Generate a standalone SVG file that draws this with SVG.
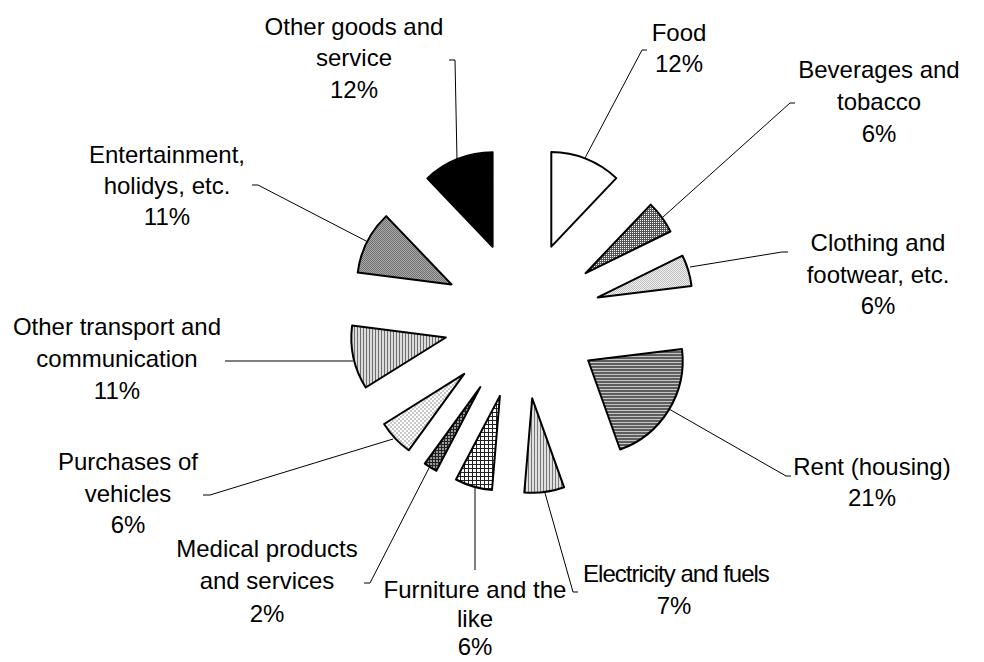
<svg xmlns="http://www.w3.org/2000/svg" width="984" height="662" viewBox="0 0 984 662">
<defs>
<pattern id="pBev" width="2" height="2" patternUnits="userSpaceOnUse"><rect width="2" height="2" fill="#555"/><rect width="1" height="1" fill="#fff"/></pattern>
<pattern id="pEnt" width="2" height="2" patternUnits="userSpaceOnUse"><rect width="2" height="2" fill="#aaa"/><rect width="1" height="1" fill="#707070"/><rect x="1" y="1" width="1" height="1" fill="#707070"/></pattern>
<pattern id="pCloth" width="2" height="2" patternUnits="userSpaceOnUse"><rect width="2" height="2" fill="#f2f2f2"/><rect width="1" height="1" fill="#bdbdbd"/><rect x="1" y="1" width="1" height="1" fill="#bdbdbd"/></pattern>
<pattern id="pPurch" width="4" height="4" patternUnits="userSpaceOnUse"><rect width="4" height="4" fill="#fff"/><rect width="2" height="2" fill="#c8c8c8"/><rect x="2" y="2" width="2" height="2" fill="#c8c8c8"/></pattern>
<pattern id="pRent" width="3" height="3" patternUnits="userSpaceOnUse"><rect width="3" height="3" fill="#5e5e5e"/><rect y="2" width="3" height="1" fill="#c4c4c4"/></pattern>
<pattern id="pOT" width="3" height="3" patternUnits="userSpaceOnUse"><rect width="3" height="3" fill="#dcdcdc"/><rect width="1" height="3" fill="#6e6e6e"/></pattern>
<pattern id="pElec" width="3" height="3" patternUnits="userSpaceOnUse"><rect width="3" height="3" fill="#e0e0e0"/><rect width="1" height="3" fill="#777"/></pattern>
<pattern id="pFurn" width="4" height="4" patternUnits="userSpaceOnUse"><rect width="4" height="4" fill="#fff"/><rect width="4" height="1" fill="#222"/><rect width="1" height="4" fill="#222"/></pattern>
<pattern id="pMed" width="3" height="3" patternUnits="userSpaceOnUse"><rect width="3" height="3" fill="#9a9a9a"/><rect width="3" height="1" fill="#222"/><rect width="1" height="3" fill="#222"/></pattern>
</defs>
<style>
.s{stroke:#000;stroke-width:2;stroke-linejoin:round}
.l{fill:none;stroke:#000;stroke-width:1}
text{font-family:"Liberation Sans",Arial,sans-serif;font-size:24px;fill:#000;text-anchor:middle}
</style>
<g id="connectors">
<polyline class="l" points="449,60 455,60 457,160"/>
<polyline class="l" points="585,158 642,50 647,50"/>
<polyline class="l" points="663,217 790,103 795,103"/>
<polyline class="l" points="690,267 782,252 788,252"/>
<polyline class="l" points="669,409 786,476 791,476"/>
<polyline class="l" points="545,493 573,592 578,592"/>
<polyline class="l" points="475,487 475,570"/>
<polyline class="l" points="429,468 370,583 364,583"/>
<polyline class="l" points="393,439 210,495 203,495"/>
<polyline class="l" points="353,361 225,361"/>
<polyline class="l" points="368,242 258,185 252,185"/>
</g>
<g id="food"><path class="s" fill="#fff" d="M551.3,246.6 L551.3,152.1 A94.5,94.5 0 0 1 616.3,178.1 Z"/><text x="679" y="41">Food</text><text x="679" y="72">12%</text></g>
<g id="beverages"><path class="s" fill="url(#pBev)" d="M585.6,273.2 L650.7,204.6 A94.5,94.5 0 0 1 670.4,231.5 Z"/><text x="879" y="78">Beverages and</text><text x="879" y="110">tobacco</text><text x="879" y="142">6%</text></g>
<g id="clothing"><path class="s" fill="url(#pCloth)" d="M597.7,297.4 L682.5,255.7 A94.5,94.5 0 0 1 691.5,285.9 Z"/><text x="878" y="251">Clothing and</text><text x="878" y="283">footwear, etc.</text><text x="878" y="314">6%</text></g>
<g id="rent"><path class="s" fill="url(#pRent)" d="M588.2,360.5 L682.0,349.0 A94.5,94.5 0 0 1 620.1,449.5 Z"/><text x="872" y="475">Rent (housing)</text><text x="872" y="506">21%</text></g>
<g id="electricity"><path class="s" fill="url(#pElec)" d="M532.2,398.3 L564.1,487.3 A94.5,94.5 0 0 1 524.3,492.5 Z"/><text x="676" y="582" letter-spacing="-1">Electricity and fuels</text><text x="674" y="614">7%</text></g>
<g id="furniture"><path class="s" fill="url(#pFurn)" d="M499.9,395.9 L492.0,490.0 A94.5,94.5 0 0 1 456.0,479.5 Z"/><text x="475" y="598">Furniture and the</text><text x="475" y="627">like</text><text x="475" y="655">6%</text></g>
<g id="medical"><path class="s" fill="url(#pMed)" d="M480.3,387.1 L436.4,470.8 A94.5,94.5 0 0 1 424.8,463.6 Z"/><text x="267" y="557">Medical products</text><text x="267" y="589">and services</text><text x="267" y="622">2%</text></g>
<g id="purchases"><path class="s" fill="url(#pPurch)" d="M464.2,373.9 L408.7,450.3 A94.5,94.5 0 0 1 384.1,424.0 Z"/><text x="128" y="470">Purchases of</text><text x="128" y="502">vehicles</text><text x="128" y="533">6%</text></g>
<g id="other-transport"><path class="s" fill="url(#pOT)" d="M445.8,337.5 L365.7,387.5 A94.5,94.5 0 0 1 352.1,325.6 Z"/><text x="117" y="335">Other transport and</text><text x="117" y="367">communication</text><text x="117" y="399">11%</text></g>
<g id="entertainment"><path class="s" fill="url(#pEnt)" d="M451.5,284.4 L357.7,272.6 A94.5,94.5 0 0 1 386.2,216.1 Z"/><text x="167" y="163">Entertainment,</text><text x="167" y="194">holidys, etc.</text><text x="167" y="225">11%</text></g>
<g id="other-goods"><path class="s" fill="#000" d="M492.6,246.7 L427.3,178.4 A94.5,94.5 0 0 1 492.6,152.2 Z"/><text x="354" y="35">Other goods and</text><text x="354" y="66">service</text><text x="354" y="98">12%</text></g>
</svg>
